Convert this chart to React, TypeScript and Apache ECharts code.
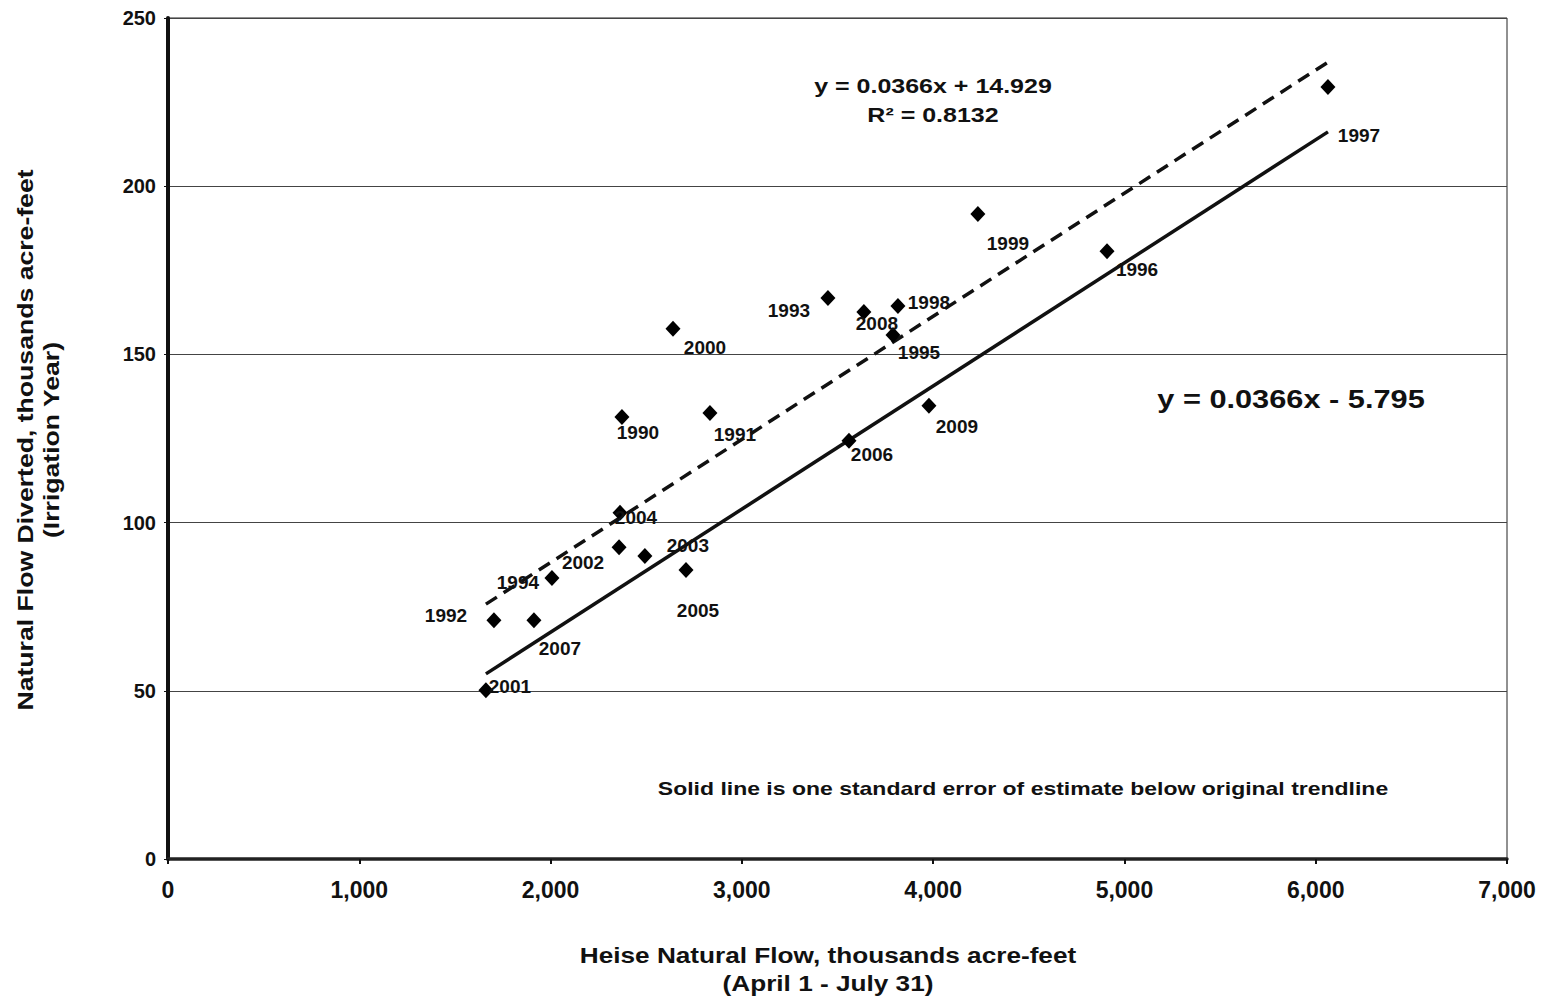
import React, { useEffect, useRef } from "react";
import * as echarts from "echarts";

// ---- data ----
const years = [
  "1990", "1991", "1992", "1993", "1994", "1995", "1996", "1997", "1998", "1999",
  "2000", "2001", "2002", "2003", "2004", "2005", "2006", "2007", "2008", "2009",
];
const heiseFlow = [
  2373, 2833, 1704, 3450, 2007, 3790, 4909, 6064, 3816, 4234,
  2640, 1662, 2358, 2493, 2363, 2708, 3560, 1913, 3638, 3978,
];
const diverted = [
  131.4, 132.6, 71.0, 166.8, 83.5, 155.8, 180.7, 229.5, 164.4, 191.7,
  157.6, 50.2, 92.7, 90.1, 102.9, 85.9, 124.3, 71.0, 162.6, 134.7,
];
// label placement (pixels, relative to each marker) – layout only
const labelOffsets: [number, number][] = [
  [16, 16], [25, 22], [-48, -5], [-39, 13], [-34, 4], [26, 18], [30, 18], [31, 49], [31, -3], [30, 29],
  [32, 19], [24, -4], [-36, 15], [43, -10], [16, 5], [12, 40], [23, 14], [26, 28], [13, 11], [28, 21],
];

const xTicks = [0, 1000, 2000, 3000, 4000, 5000, 6000, 7000];
const yTicks = [0, 50, 100, 150, 200, 250];

// trendline equations shown on the chart
const trendSlope = 0.0366;
const trendIntercept = 14.929;
const lowerIntercept = -5.795;

const FONT = "'Liberation Sans', Arial, Helvetica, sans-serif";

export default function App() {
  const ref = useRef<HTMLDivElement>(null);

  useEffect(() => {
    document.body.style.margin = "0";
    if (!ref.current) return;
    const chart = echarts.init(ref.current, undefined, { renderer: "svg" });

    const xMinData = Math.min(...heiseFlow);
    const xMaxData = Math.max(...heiseFlow);

    const points = years.map((y, i) => ({
      name: y,
      value: [heiseFlow[i], diverted[i]],
      label: { offset: labelOffsets[i] },
    }));

    const txt = (
      text: string,
      x: number,
      y: number,
      size: number,
      sx: number,
      extra: any = {}
    ) => {
      const { lineHeight, ...rest } = extra;
      return {
        type: "text",
        x,
        y,
        scaleX: sx,
        silent: true,
        ...rest,
        style: {
          text,
          fontFamily: FONT,
          fontSize: size,
          fontWeight: "bold",
          fill: "#111",
          align: "center",
          textAlign: "center",
          verticalAlign: "middle",
          textVerticalAlign: "middle",
          lineHeight: lineHeight || size * 1.2,
        },
      };
    };

    chart.setOption({
      animation: false,
      backgroundColor: "#fff",
      grid: {
        left: 168,
        right: 40,
        top: 18,
        bottom: 143,
        show: true,
        borderColor: "#222",
        borderWidth: 1,
        backgroundColor: "transparent",
      },
      xAxis: {
        type: "value",
        min: xTicks[0],
        max: xTicks[xTicks.length - 1],
        interval: 1000,
        axisLine: { show: true, onZero: false, lineStyle: { color: "#222", width: 3.5 } },
        axisTick: { show: true, inside: false, length: 5, lineStyle: { color: "#111", width: 2 } },
        splitLine: { show: false },
        axisLabel: {
          margin: 19,
          fontFamily: FONT,
          fontSize: 23,
          fontWeight: "bold",
          color: "#111",
          formatter: (v: number) => v.toLocaleString("en-US"),
        },
      },
      yAxis: {
        type: "value",
        min: yTicks[0],
        max: yTicks[yTicks.length - 1],
        interval: 50,
        axisLine: { show: true, onZero: false, lineStyle: { color: "#111", width: 4 } },
        axisTick: { show: true, inside: false, length: 4, lineStyle: { color: "#111", width: 1 } },
        splitLine: { show: true, lineStyle: { color: "#444", width: 1 } },
        axisLabel: {
          margin: 12,
          fontFamily: FONT,
          fontSize: 20,
          fontWeight: "bold",
          color: "#111",
        },
      },
      series: [
        {
          type: "line",
          name: "trend",
          data: [
            [xMinData, trendSlope * xMinData + trendIntercept],
            [xMaxData, trendSlope * xMaxData + trendIntercept],
          ],
          showSymbol: false,
          symbol: "none",
          lineStyle: { color: "#111", width: 3.5, type: [13, 8] },
          silent: true,
          z: 3,
        },
        {
          type: "line",
          name: "lower",
          data: [
            [xMinData, trendSlope * xMinData + lowerIntercept],
            [xMaxData, trendSlope * xMaxData + lowerIntercept],
          ],
          showSymbol: false,
          symbol: "none",
          lineStyle: { color: "#111", width: 3.5, type: "solid" },
          silent: true,
          z: 3,
        },
        {
          type: "scatter",
          name: "years",
          data: points,
          symbol: "diamond",
          symbolSize: [15, 16],
          itemStyle: { color: "#000", opacity: 1 },
          z: 4,
          label: {
            show: true,
            position: "inside",
            formatter: (p: any) => p.name,
            fontFamily: FONT,
            fontSize: 19,
            fontWeight: "bold",
            color: "#111",
          },
        },
      ],
      graphic: [
        txt("y = 0.0366x + 14.929", 933, 86, 21, 1.19),
        txt("R² = 0.8132", 933, 115, 21, 1.19),
        txt("y = 0.0366x - 5.795", 1291, 400, 25, 1.23),
        txt("Solid line is one standard error of estimate below original trendline", 1023, 788, 19, 1.21),
        txt("Heise Natural Flow, thousands acre-feet\n(April 1 - July 31)", 828, 969, 22, 1.19, {
          lineHeight: 28,
        }),
        txt("Natural Flow Diverted, thousands acre-feet\n(Irrigation Year)", 38, 440, 22, 1.21, {
          rotation: Math.PI / 2,
          lineHeight: 26,
        }),
      ],
    });

    return () => chart.dispose();
  }, []);

  return <div ref={ref} style={{ width: 1547, height: 1002 }} />;
}
